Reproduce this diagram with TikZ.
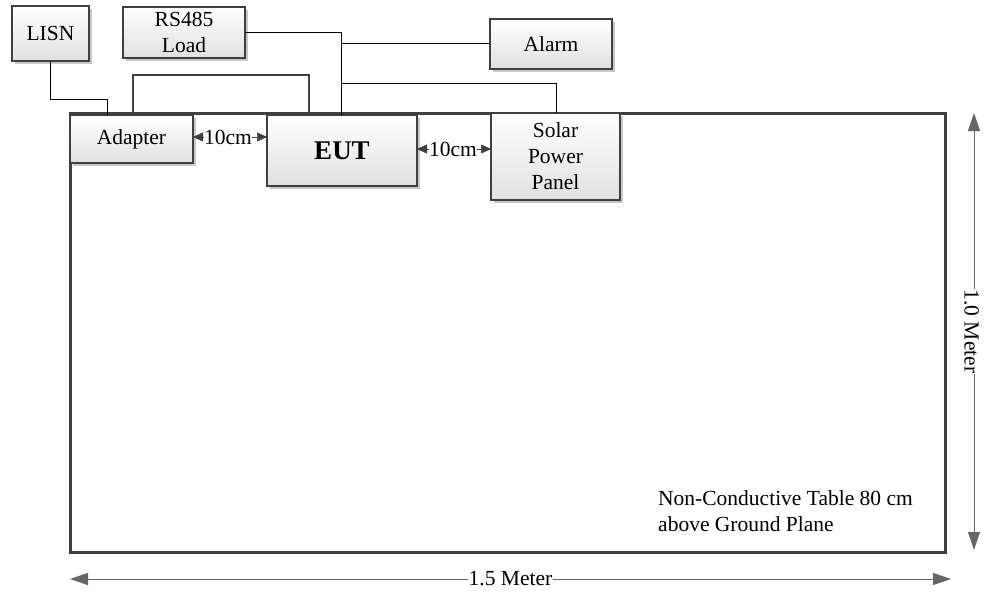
\documentclass[tikz,border=0pt]{standalone}
\usepackage{fontspec}
\setmainfont{Liberation Serif}
\usetikzlibrary{arrows.meta,shadows}
\definecolor{edge}{HTML}{404040}
\begin{document}
\begin{tikzpicture}[x=1pt,y=-1pt,
  box/.style={draw=edge, line width=2pt, top color=white, bottom color=black!12,
    drop shadow={shadow xshift=3pt, shadow yshift=-3pt, fill=black!22, opacity=1},
    inner sep=0pt, outer sep=0pt, font=\fontsize{21.5}{26}\selectfont, align=center},
  wire/.style={draw=black, line width=1pt},
  loopwire/.style={draw=edge, line width=1.6pt},
  gap/.style={-{Triangle[length=10pt,width=9pt]}, draw=edge, fill=edge, line width=0.5pt},
  dim/.style={-{Triangle[length=18pt,width=12pt]}, draw=black!60, line width=1pt},
  lbl/.style={font=\fontsize{21.5}{26}\selectfont, inner sep=0pt}]
\useasboundingbox (0,0) rectangle (989,602);
\fill[white] (0,0) rectangle (989,602);

% table
\node[draw=edge, line width=3pt, minimum width=875, minimum height=438, anchor=north west, inner sep=0pt, outer sep=0pt] (table) at (70,114) {};

% boxes
\node[box, minimum width=77, minimum height=55] (lisn) at (50.5,33.5) {LISN};
\node[box, minimum width=122, minimum height=51] (rs) at (184,32.5) {RS485\\Load};
\node[box, minimum width=122, minimum height=50] (alarm) at (551,44) {Alarm};
\node[box, minimum width=123, minimum height=48] (adapter) at (131.5,139) {Adapter};
\node[box, minimum width=150, minimum height=71, font=\bfseries\fontsize{27}{32}\selectfont] (eut) at (342,150.5) {EUT};
\node[box, minimum width=129, minimum height=87] (solar) at (555.5,156.5) {Solar\\Power\\Panel};

% wires
\coordinate (j1) at (107,100);
\draw[wire] (lisn.south) |- (j1) -- (j1 |- adapter.north);
\coordinate (a1) at (133,0);
\coordinate (l2) at (309,75);
\draw[loopwire] (a1 |- adapter.north) |- (l2) -- (l2 |- eut.north);
\coordinate (bus) at (341,32);
\draw[wire] (rs.east) -- (rs.east -| bus) -- (bus |- eut.north);
\draw[wire] (alarm.west -| bus) -- (alarm.west);
\coordinate (s1) at (556,84);
\draw[wire] (s1 -| bus) -- (s1) -- (s1 |- solar.north);

% 10cm gaps
\node[lbl] (g1) at (228,137) {10cm};
\draw[gap] (g1.west) -- (g1.west -| adapter.east);
\draw[gap] (g1.east) -- (g1.east -| eut.west);
\node[lbl] (g2) at (453,149) {10cm};
\draw[gap] (g2.west) -- (g2.west -| eut.east);
\draw[gap] (g2.east) -- (g2.east -| solar.west);

% note
\node[lbl, align=left, anchor=south west] (note) at (658,532) {Non-Conductive Table 80 cm\\above Ground Plane};

% dimensions
\node[lbl, inner sep=1pt] (h) at (510.5,579) {1.5 Meter};
\coordinate (hl) at (70,579);
\coordinate (hr) at (951,579);
\draw[dim] (h.west) -- (hl);
\draw[dim] (h.east) -- (hr);
\node[lbl, inner sep=1pt, rotate=-90] (v) at (971.5,331.5) {1.0 Meter};
\coordinate (vt) at (974,113);
\coordinate (vb) at (974,550);
\draw[dim] (v.west -| vt) -- (vt);
\draw[dim] (v.east -| vt) -- (vb);
\end{tikzpicture}
\end{document}
